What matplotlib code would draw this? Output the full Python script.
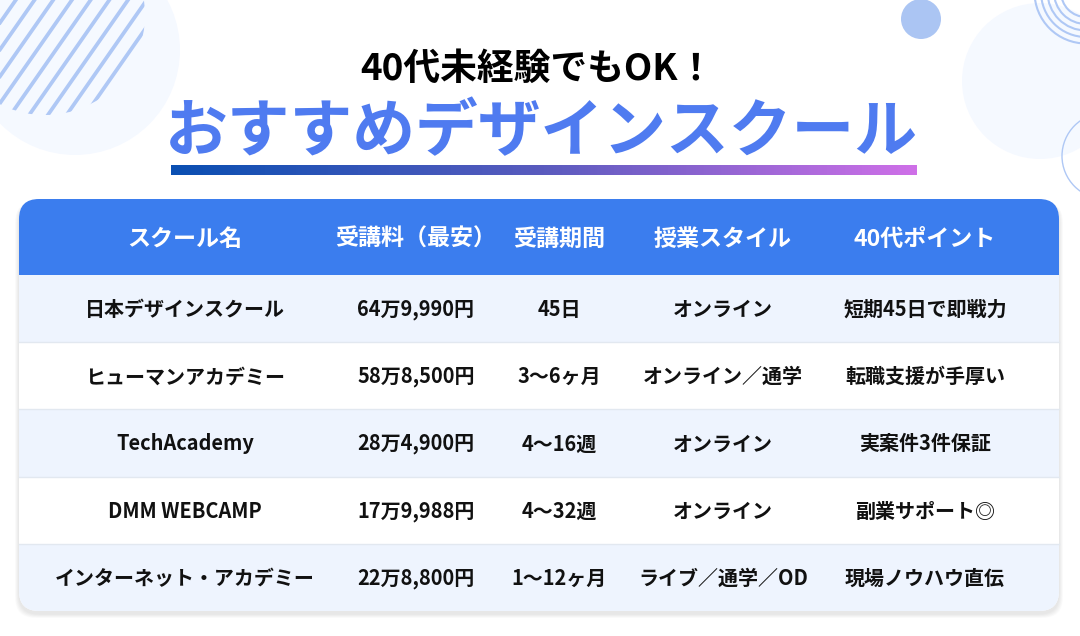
import matplotlib
matplotlib.use("Agg")
import matplotlib.pyplot as plt
import numpy as np
from matplotlib.colors import LinearSegmentedColormap
from matplotlib.patches import Circle, FancyBboxPatch, Rectangle

plt.rcParams['font.family'] = ['Noto Sans CJK JP', 'DejaVu Sans']

subtitle = "40代未経験でもOK！"
title = "おすすめデザインスクール"

headers = ["スクール名", "受講料（最安）", "受講期間", "授業スタイル", "40代ポイント"]
schools = ["日本デザインスクール", "ヒューマンアカデミー", "TechAcademy", "DMM WEBCAMP", "インターネット・アカデミー"]
prices = ["64万9,990円", "58万8,500円", "28万4,900円", "17万9,988円", "22万8,800円"]
periods = ["45日", "3〜6ヶ月", "4〜16週", "4〜32週", "1〜12ヶ月"]
styles = ["オンライン", "オンライン／通学", "オンライン", "オンライン", "ライブ／通学／OD"]
points = ["短期45日で即戦力", "転職支援が手厚い", "実案件3件保証", "副業サポート◎", "現場ノウハウ直伝"]

W, H = 1080, 636
fig = plt.figure(figsize=(W / 100, H / 100), dpi=100)
ax = fig.add_axes([0, 0, 1, 1])
ax.set_xlim(0, W)
ax.set_ylim(H, 0)
ax.axis("off")

PALE = "#F5F9FF"
LINE = "#AFC8F5"

# background decoration
ax.add_patch(Circle((75, 50), 105, fc=PALE, ec="none", zorder=1))
ax.add_patch(Circle((1040, 81), 78, fc=PALE, ec="none", zorder=1))
ax.add_patch(Circle((921, 19), 20, fc="#ABC5F3", ec="none", zorder=2))

clip = Circle((45, 15), 100, transform=ax.transData)
for x0 in np.arange(-55.5, 240, 18.7):
    l, = ax.plot([x0, x0 - 115], [-5, 160], color=LINE, lw=2.7, zorder=2, solid_capstyle="butt")
    l.set_clip_path(clip)

for r in [51.5, 45, 38.5, 32, 25]:
    ax.add_patch(Circle((1086, -8), r, fc="none", ec=LINE, lw=1.5, zorder=2))
ax.add_patch(Circle((1105, 156), 43, fc="none", ec=LINE, lw=1.0, zorder=2))

# heading
ax.text(537, 69, subtitle, fontsize=26.5, fontweight="bold", color="black", ha="center", va="center", zorder=5)
ax.text(541, 133, title, fontsize=45.2, fontweight="bold", color="#4F7BF0", ha="center", va="center", zorder=5)

cmap = LinearSegmentedColormap.from_list("bar", ["#0A4FB2", "#5A5BBE", "#CF70E8"])
ax.imshow(np.linspace(0, 1, 256).reshape(1, -1), cmap=cmap, extent=(171, 917, 175, 165), aspect="auto", zorder=3)
ax.set_xlim(0, W)
ax.set_ylim(H, 0)

# table
left, right, top, bottom = 19, 1059, 199, 611
head_h = 76
row_h = (bottom - top - head_h) / len(schools)
radius = 20

for i in range(8):
    grow = 8 - i
    ax.add_patch(FancyBboxPatch((left + radius - grow / 2, top + radius + 3),
                                right - left - 2 * radius + grow, bottom - top - 2 * radius + grow / 2,
                                boxstyle="round,pad=%d" % radius, fc="black", ec="none", alpha=0.012, zorder=3))

card = FancyBboxPatch((left + radius, top + radius), right - left - 2 * radius, bottom - top - 2 * radius,
                      boxstyle="round,pad=%d" % radius, fc="white", ec="none", zorder=4)
ax.add_patch(card)

head = Rectangle((left, top), right - left, head_h, fc="#3B7DEE", ec="none", zorder=5)
ax.add_patch(head)
head.set_clip_path(card)

col_x = [185, 416, 559, 723, 925]
head_x = [185, 416, 559, 723, 925]

for x, label in zip(head_x, headers):
    ax.text(x, top + head_h / 2 + 2, label, color="white", fontsize=16.6, fontweight="bold",
            ha="center", va="center", zorder=7)

columns = [schools, prices, periods, styles, points]
for i in range(len(schools)):
    y = top + head_h + i * row_h
    band = Rectangle((left, y), right - left, row_h, fc="#EEF4FE" if i % 2 == 0 else "white", ec="none", zorder=5)
    ax.add_patch(band)
    band.set_clip_path(card)
    if i > 0:
        ax.plot([left, right], [y, y], color="#E2E8F0", lw=1, zorder=6)
    for x, col in zip(col_x, columns):
        ax.text(x, y + row_h / 2 + 1, col[i], color="#111111", fontsize=14.4, fontweight="bold",
                ha="center", va="center", zorder=7)

fig.savefig("out.png", dpi=100)
